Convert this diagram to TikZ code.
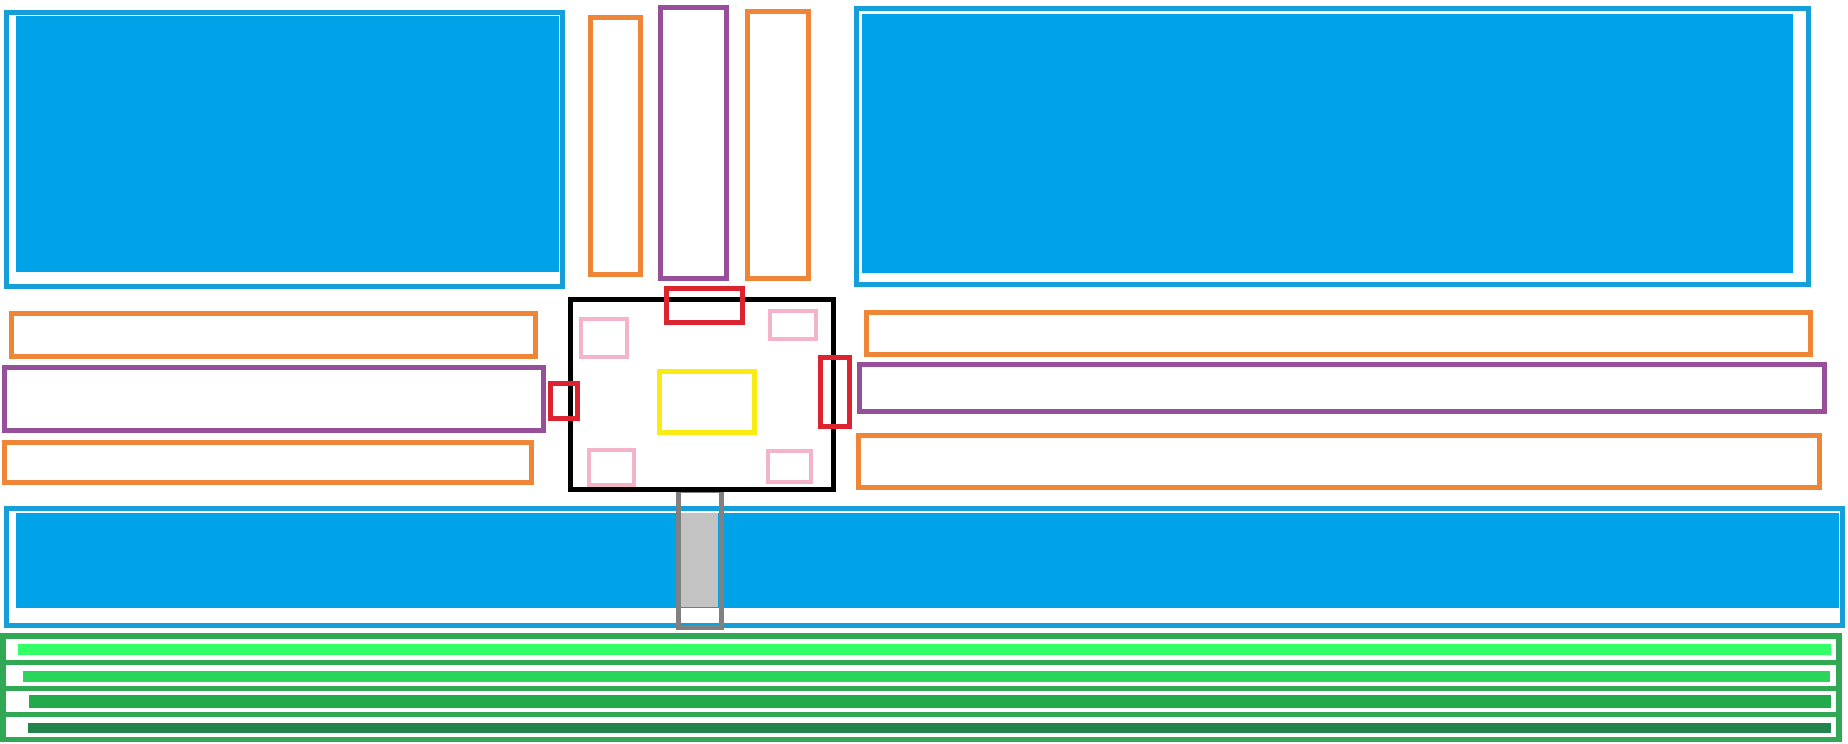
\documentclass[tikz,border=0pt]{standalone}
\usepackage{xcolor}
\definecolor{bfill}{HTML}{00A2E8}
\definecolor{bline}{HTML}{159FD8}
\definecolor{orng}{HTML}{EF8637}
\definecolor{purp}{HTML}{984F9A}
\definecolor{redc}{HTML}{DC2430}
\definecolor{pinkc}{HTML}{F5B3CB}
\definecolor{yelc}{HTML}{F8EC12}
\definecolor{grayl}{HTML}{808080}
\definecolor{grayf}{HTML}{C3C3C3}
\definecolor{grnl}{HTML}{31A854}
\definecolor{gA}{HTML}{33FF66}
\definecolor{gB}{HTML}{2BD45A}
\definecolor{gC}{HTML}{22AB4A}
\definecolor{gD}{HTML}{23834C}
\tikzset{
  bluebox/.style={draw=bline, line width=5pt},
  bluefill/.style={fill=bfill},
  orangebox/.style={draw=orng, line width=5pt},
  purplebox/.style={draw=purp, line width=5pt},
  redbox/.style={draw=redc, line width=4.5pt},
  pinkbox/.style={draw=pinkc, line width=4pt},
  yellowbox/.style={draw=yelc, line width=4.5pt},
  blackbox/.style={draw=black, line width=4.7pt},
  graybox/.style={draw=grayl, line width=4.5pt},
  greenbox/.style={draw=grnl, line width=5.5pt},
}
\begin{document}
\begin{tikzpicture}[x=1pt,y=-1pt]
\useasboundingbox[fill=white] (0,0) rectangle (1848,744);
% top-left blue
\fill[bluefill] (16,16) rectangle (559,272);
\draw[bluebox] (6.5,12.5) rectangle (562.5,286.5);
% tall boxes
\draw[orangebox] (590.5,17.5) rectangle (640.5,274.5);
\draw[purplebox] (660.5,7.5) rectangle (726.5,278.5);
\draw[orangebox] (747.5,11.5) rectangle (808.5,278.5);
% top-right blue
\fill[bluefill] (862,14) rectangle (1793,273);
\draw[bluebox] (856.5,8.5) rectangle (1808.5,284.5);
% left rows
\draw[orangebox] (11.5,313.5) rectangle (535.5,356.5);
\draw[purplebox] (4.5,367.5) rectangle (543.5,430.5);
\draw[orangebox] (4.5,442.5) rectangle (531.5,482.5);
% right rows
\draw[orangebox] (866.5,312.5) rectangle (1810.5,354.5);
\draw[purplebox] (859.5,364.5) rectangle (1824.5,411.5);
\draw[orangebox] (858.5,435.5) rectangle (1819.5,487.5);
% bottom blue
\fill[bluefill] (16,513) rectangle (1839,608);
\draw[bluebox] (6.5,508.5) rectangle (1842.5,625.5);
% gray post
\fill[grayf] (681,513) rectangle (718,607);
\draw[graybox] (678.5,490.5) rectangle (721.5,627.5);
% central black box
\draw[blackbox] (570.5,299.5) rectangle (833.5,489.5);
\draw[pinkbox] (581,319) rectangle (627,357);
\draw[pinkbox] (770,311) rectangle (816,339);
\draw[pinkbox] (589,450) rectangle (634,485);
\draw[pinkbox] (768,451) rectangle (811,482);
\draw[yellowbox] (659.5,371.5) rectangle (754.5,432.5);
\draw[redbox] (666.5,288.5) rectangle (742.5,322.5);
\draw[redbox] (550.5,383.5) rectangle (577.5,418.5);
\draw[redbox] (820.5,357.5) rectangle (849.5,426.5);
% green stack
\fill[gA] (18,644) rectangle (1831,655);
\fill[gB] (23,671) rectangle (1830,682);
\fill[gC] (29,695) rectangle (1831,708);
\fill[gD] (28,723) rectangle (1831,733);
\draw[greenbox] (3,636) rectangle (1839,662.5);
\draw[greenbox] (3,662.5) rectangle (1839,688.5);
\draw[greenbox] (3,688.5) rectangle (1839,714.5);
\draw[greenbox] (3,714.5) rectangle (1839,739.5);
\end{tikzpicture}
\end{document}
